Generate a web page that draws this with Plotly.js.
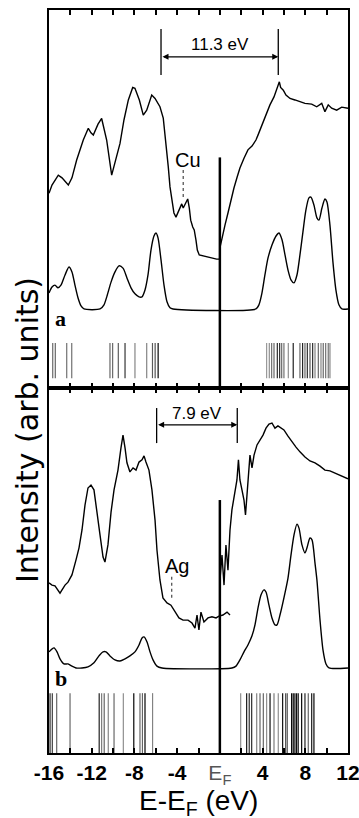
<!DOCTYPE html>
<html><head><meta charset="utf-8">
<script src="https://cdn.plot.ly/plotly-3.0.1.min.js"></script>
<style>html,body{margin:0;padding:0;background:#fff}#chart{width:359px;height:818px}</style>
</head><body><div id="chart"></div>
<script>
// ---------------- data (energies in eV relative to E_F, intensities in arb. units) ----------------
// Panel a (Cu): measured spectrum, below and above E_F (null = break at E_F)
const cuExpE = [-16.0,-15.72,-15.13,-14.78,-14.19,-13.85,-13.41,-12.79,-12.32,-12.07,-11.85,-11.41,-11.07,-10.85,-10.60,-10.13,-9.82,-9.35,-8.98,-8.57,-8.16,-7.95,-7.54,-7.17,-6.85,-6.38,-6.07,-5.61,-5.30,-5.14,-4.98,-4.83,-4.67,-4.51,-4.30,-4.11,-3.89,-3.57,-3.43,-3.17,-3.01,-2.86,-2.73,-2.54,-2.40,-2.24,-2.11,-1.93,-1.23,-0.30,0.0,
  null,
  0.0,0.20,0.48,0.76,1.04,1.32,1.60,1.88,2.26,2.63,3.01,3.38,3.57,3.94,4.32,4.69,5.07,5.32,5.57,5.69,5.94,6.19,6.57,7.03,7.50,7.97,8.60,9.07,9.54,9.84,10.15,10.47,10.94,11.41,12.0];
const cuExpI = [51.5,53.7,56.3,55.6,53.7,55.6,60.3,65.6,68.7,67.5,66.9,69.8,71.3,68.3,65.6,56.3,59.4,64.7,70.9,76.2,79.5,79.3,76.2,72.2,73.5,77.5,76.6,74.4,71.4,67.5,63.0,58.5,53.2,49.7,46.3,45.2,46.6,48.7,47.6,49.3,50.0,47.6,44.4,42.6,41.8,39.2,36.5,35.2,34.7,34.1,34.1,
  null,
  37.0,39.7,43.1,46.3,49.7,52.9,55.6,58.2,60.8,63.0,64.0,65.6,66.9,69.6,72.2,74.9,77.0,79.3,81.0,79.5,78.8,77.5,76.6,76.2,75.7,75.3,75.1,74.4,75.3,73.1,74.9,74.0,73.5,74.3,74.0];
// Panel a (Cu): calculated spectrum
const cuCalcE = [-16.0,-15.72,-15.44,-15.16,-14.88,-14.50,-14.13,-13.85,-13.57,-13.28,-13.00,-12.72,-11.22,-10.85,-10.57,-10.19,-9.82,-9.45,-9.07,-8.70,-8.32,-7.95,-7.57,-7.29,-7.01,-6.73,-6.45,-6.17,-5.98,-5.79,-5.51,-5.23,-4.95,-4.67,-4.39,3.38,3.66,3.94,4.22,4.51,4.88,5.26,5.54,5.82,6.10,6.38,6.66,6.94,7.22,7.50,7.78,8.06,8.34,8.53,8.81,9.09,9.28,9.56,9.84,10.03,10.31,10.59,10.87,11.15,11.43,12.0];
const cuCalcI = [25.1,26.7,27.2,26.5,27.2,29.9,32.0,30.7,27.2,23.8,21.7,20.9,20.9,22.0,24.3,28.0,30.7,32.3,31.7,29.1,26.5,24.9,24.1,24.1,25.9,29.9,36.5,40.2,41.0,39.7,33.9,27.2,22.8,21.2,20.9,20.9,22.0,25.1,29.9,34.4,37.8,40.2,41.0,39.2,35.2,31.2,28.6,27.8,29.9,35.2,41.3,47.1,50.3,50.5,48.4,45.0,44.4,47.6,50.0,49.2,43.1,33.3,25.9,22.0,20.9,20.9];
// Panel a (Cu): stick spectrum (state energies and relative weights)
const cuStickE = [-15.65,-15.41,-14.34,-13.87,-10.29,-10.04,-9.51,-8.88,-7.95,-6.85,-6.31,-6.06,-5.78,4.38,4.63,4.85,5.07,5.38,5.60,5.79,6.00,6.41,6.87,7.50,7.75,7.97,8.19,8.44,8.69,8.91,9.22,9.47,9.68,9.91,10.15,10.31];
const cuStickW = [0.5,0.5,0.45,0.45,0.5,0.5,0.55,0.75,0.35,0.35,0.55,0.6,1.0,0.25,0.3,0.45,0.5,0.8,0.8,0.5,0.45,0.3,0.85,0.5,0.85,0.5,0.8,0.6,0.8,0.35,0.5,0.35,0.5,0.45,0.45,0.35];
const cuStickLow = 2.6, cuStickHigh = 11.9;
const cuFermiTop = 61;
const cuGap = [-5.51, 5.47];          // 11.3 eV marker
const cuGapLabel = '11.3 eV';

// Panel b (Ag): measured spectrum
const agExpE = [-16.0,-15.72,-15.44,-15.16,-14.97,-14.78,-14.50,-14.22,-13.85,-13.47,-13.19,-12.91,-12.63,-12.35,-12.07,-11.79,-11.51,-11.22,-10.94,-10.76,-10.48,-10.19,-9.91,-9.54,-9.26,-9.07,-8.88,-8.70,-8.42,-8.13,-7.85,-7.57,-7.29,-7.10,-6.92,-6.64,-6.36,-6.07,-5.89,-5.61,-5.33,-4.95,-4.58,-4.20,-3.83,-3.45,-2.98,-2.61,-2.33,-2.14,-1.96,-1.77,-1.49,-1.11,-0.74,-0.36,-0.08,0.29,0.67,0.95,
  null,
  0.01,0.20,0.39,0.57,0.76,0.95,1.13,1.42,1.60,1.74,1.88,2.07,2.26,2.40,2.54,2.73,2.82,3.01,3.20,3.48,3.76,4.04,4.32,4.60,4.88,5.16,5.44,5.72,6.00,6.38,6.75,7.13,7.50,7.97,8.44,8.91,9.38,9.84,10.31,10.78,11.25,11.63,12.0];
const agExpI = [46.6,46.0,45.8,44.7,43.8,44.7,46.0,46.8,48.8,52.9,56.2,61.1,67.9,72.6,73.4,72.1,66.6,59.7,53.7,52.3,57.0,66.0,72.1,77.5,83.6,87.1,83.6,79.5,77.0,78.1,77.5,79.7,80.3,81.4,79.7,77.5,72.1,63.8,55.6,47.4,42.5,41.1,40.5,38.6,37.0,36.4,36.4,35.6,34.2,37.8,33.7,38.6,35.9,37.0,37.3,37.0,37.5,37.8,38.6,37.8,
  null,
  47.4,54.2,46.0,57.0,50.1,61.1,66.6,72.1,74.8,80.3,74.8,72.1,69.3,65.2,70.7,76.2,81.6,78.1,81.6,84.4,85.8,87.1,89.0,90.1,90.4,89.0,89.6,89.0,88.5,86.8,85.2,83.8,82.5,81.1,80.0,79.5,78.6,77.5,77.3,76.7,76.2,75.6,75.1];
// Panel b (Ag): calculated spectrum
const agCalcE = [-16.0,-15.72,-15.53,-15.25,-14.97,-14.60,-14.22,-13.85,-13.47,-12.91,-12.35,-11.79,-11.32,-10.94,-10.66,-10.29,-9.82,-9.35,-8.88,-8.42,-7.95,-7.57,-7.29,-7.10,-6.82,-6.54,-6.26,-5.89,-5.42,1.13,1.51,1.88,2.26,2.63,3.01,3.29,3.57,3.85,4.13,4.32,4.60,4.88,5.16,5.35,5.63,6.00,6.38,6.66,6.94,7.22,7.41,7.69,7.97,8.16,8.44,8.63,8.91,9.09,9.38,9.66,9.94,10.22,12.0];
const agCalcI = [27.7,28.5,28.8,27.7,25.8,24.4,24.4,23.8,23.3,23.3,23.6,24.7,26.6,27.7,27.7,26.6,25.5,25.2,25.8,26.6,27.7,29.6,31.5,31.8,30.4,27.7,25.5,23.8,23.3,23.3,23.8,25.5,27.7,29.6,32.1,35.1,39.7,43.3,44.7,44.1,40.5,37.0,35.1,35.1,37.8,42.5,47.9,54.2,59.7,62.7,61.6,57.0,54.8,56.2,58.9,58.4,52.0,47.4,36.4,28.2,24.4,23.3,23.3];
// Panel b (Ag): stick spectrum
const agStickE = [-15.9,-15.69,-15.28,-14.03,-11.30,-11.07,-10.83,-10.45,-9.91,-9.04,-8.06,-7.48,-7.25,-7.01,-6.30,1.95,2.51,2.75,2.98,3.45,3.76,4.07,4.38,4.70,5.07,5.47,5.88,6.16,6.31,6.72,6.87,7.03,7.19,7.34,7.66,7.97,8.28,8.60,8.81];
const agStickW = [0.8,0.7,0.5,0.5,0.85,0.4,0.5,0.35,0.5,0.3,1.0,0.5,0.5,1.0,0.35,0.3,0.9,0.8,0.8,0.35,0.5,0.5,0.3,0.95,0.4,0.3,0.95,0.6,0.6,1.0,1.0,1.0,1.0,0.9,1.0,0.85,0.5,0.9,1.0];
const agStickLow = 0, agStickHigh = 16.4;
const agFermiTop = 69.3;
const agGap = [-5.92, 1.63];           // 7.9 eV marker
const agGapLabel = '7.9 eV';

const fermiE = 0;
const xTickVals = [-16,-14,-12,-10,-8,-6,-4,-2,0,2,4,6,8,10,12];
const xTickText = ['-16','','-12','','-8','','-4','','E_F','','4','','8','','12'];

// ---------------- drawing ----------------
const FONT = 'Liberation Sans, Arial, Helvetica, sans-serif';
function gray(w){const c=Math.round(200*(1-w));return 'rgb('+c+','+c+','+c+')';}
function sticks(E,W,lo,hi,xa,ya){
  return {type:'bar', x:E, y:E.map(()=>hi-lo), base:lo, width:0.11,
    marker:{color:W.map(gray), line:{width:0}}, xaxis:xa, yaxis:ya, hoverinfo:'skip'};
}
function curve(E,I,xa,ya,smooth){
  return {type:'scatter', mode:'lines', x:E, y:I, xaxis:xa, yaxis:ya, connectgaps:false,
    line:{color:'#000', width:1.4, shape:smooth?'spline':'linear', smoothing:0.7}, hoverinfo:'skip'};
}
function fermi(top,xa,ya){
  return {type:'scatter', mode:'lines', x:[fermiE,fermiE], y:[0,top], xaxis:xa, yaxis:ya,
    line:{color:'#000', width:2.5}, hoverinfo:'skip'};
}

const data = [
  sticks(cuStickE,cuStickW,cuStickLow,cuStickHigh,'x2','y2'),
  curve(cuCalcE,cuCalcI,'x2','y2',true),
  curve(cuExpE,cuExpI,'x2','y2',false),
  fermi(cuFermiTop,'x2','y2'),
  sticks(agStickE,agStickW,agStickLow,agStickHigh,'x','y'),
  curve(agCalcE,agCalcI,'x','y',true),
  curve(agExpE,agExpI,'x','y',false),
  fermi(agFermiTop,'x','y')
];

const tickText = xTickText.map(t => t==='' ? '' : (t==='E_F' ? '<span style="color:#555">E<sub>F</sub></span>' : '<b>'+t+'</b>'));
const xCommon = {range:[-16,12], showline:true, linewidth:2, linecolor:'#000', mirror:'ticks',
  ticks:'inside', ticklen:5, tickwidth:2, tickcolor:'#000', tickmode:'array',
  tickvals:xTickVals, ticktext:tickText, showgrid:false, zeroline:false, ticklabeloverflow:'allow',
  tickfont:{family:FONT, size:21, color:'#000'}};
const yCommon = {range:[0,100], showline:true, linewidth:2, linecolor:'#000', mirror:true,
  ticks:'', showticklabels:false, showgrid:false, zeroline:false, fixedrange:true};
const split = 0.4913;

function gapShapes(g,lo,hi,xa,ya){
  return g.map(e => ({type:'line', xref:xa, yref:ya, x0:e, x1:e, y0:lo, y1:hi, line:{color:'#000', width:1.3}}));
}
const shapes = [].concat(
  gapShapes(cuGap,82.8,95,'x2','y2'),
  gapShapes(agGap,84.9,94.5,'x','y'),
  [{type:'line', xref:'x2', yref:'y2', x0:-3.43, x1:-3.43, y0:50.5, y1:57.7, line:{color:'#555', width:1.3, dash:'dot'}},
   {type:'line', xref:'x', yref:'y', x0:-4.51, x1:-4.51, y0:42.5, y1:49, line:{color:'#555', width:1.3, dash:'dot'}}]
);

const annotations = [
  {xref:'x2', yref:'y2', axref:'x2', ayref:'y2', x:cuGap[1], y:87.6, ax:cuGap[0], ay:87.6, text:'',
   showarrow:true, arrowhead:2, arrowside:'end+start', arrowsize:1, arrowwidth:1.2, arrowcolor:'#000'},
  {xref:'x2', yref:'y2', x:(cuGap[0]+cuGap[1])/2, y:91.0, text:cuGapLabel, showarrow:false,
   font:{family:FONT, size:17, color:'#000'}},
  {xref:'x', yref:'y', axref:'x', ayref:'y', x:agGap[1], y:89.9, ax:agGap[0], ay:89.9, text:'',
   showarrow:true, arrowhead:2, arrowside:'end+start', arrowsize:1, arrowwidth:1.2, arrowcolor:'#000'},
  {xref:'x', yref:'y', x:(agGap[0]+agGap[1])/2, y:93.0, text:agGapLabel, showarrow:false,
   font:{family:FONT, size:17, color:'#000'}},
  {xref:'x2', yref:'y2', x:-2.99, y:60.3, text:'Cu', showarrow:false, font:{family:FONT, size:20, color:'#000'}},
  {xref:'x', yref:'y', x:-3.97, y:51.2, text:'Ag', showarrow:false, font:{family:FONT, size:20, color:'#000'}},
  {xref:'x2', yref:'y2', x:-14.88, y:18.3, text:'<b>a</b>', showarrow:false,
   font:{family:'Liberation Serif, Times New Roman, serif', size:22, color:'#000'}},
  {xref:'x', yref:'y', x:-14.88, y:20.3, text:'<b>b</b>', showarrow:false,
   font:{family:'Liberation Serif, Times New Roman, serif', size:22, color:'#000'}},
  {xref:'paper', yref:'paper', x:-0.0735, y:0.4347, text:'Intensity (arb. units)', textangle:-90,
   showarrow:false, xanchor:'center', yanchor:'middle', font:{family:'DejaVu Sans, sans-serif', size:30, color:'#000'}},
  {xref:'paper', yref:'paper', x:0.5, y:-0.0660, text:'E-E<sub>F</sub> (eV)', showarrow:false,
   xanchor:'center', yanchor:'middle', font:{family:FONT, size:28, color:'#000'}}
];

const layout = {
  width:359, height:818, margin:{l:49, r:11, t:10, b:65},
  paper_bgcolor:'#fff', plot_bgcolor:'#fff', showlegend:false, hovermode:false,
  barmode:'overlay',
  xaxis:Object.assign({}, xCommon, {anchor:'y', domain:[0,1]}),
  xaxis2:Object.assign({}, xCommon, {anchor:'y2', domain:[0,1], matches:'x', showticklabels:false}),
  yaxis:Object.assign({}, yCommon, {domain:[0,split], anchor:'x'}),
  yaxis2:Object.assign({}, yCommon, {domain:[split,1], anchor:'x2'}),
  shapes:shapes, annotations:annotations
};

Plotly.newPlot('chart', data, layout, {staticPlot:true, displayModeBar:false});
</script>
</body></html>
